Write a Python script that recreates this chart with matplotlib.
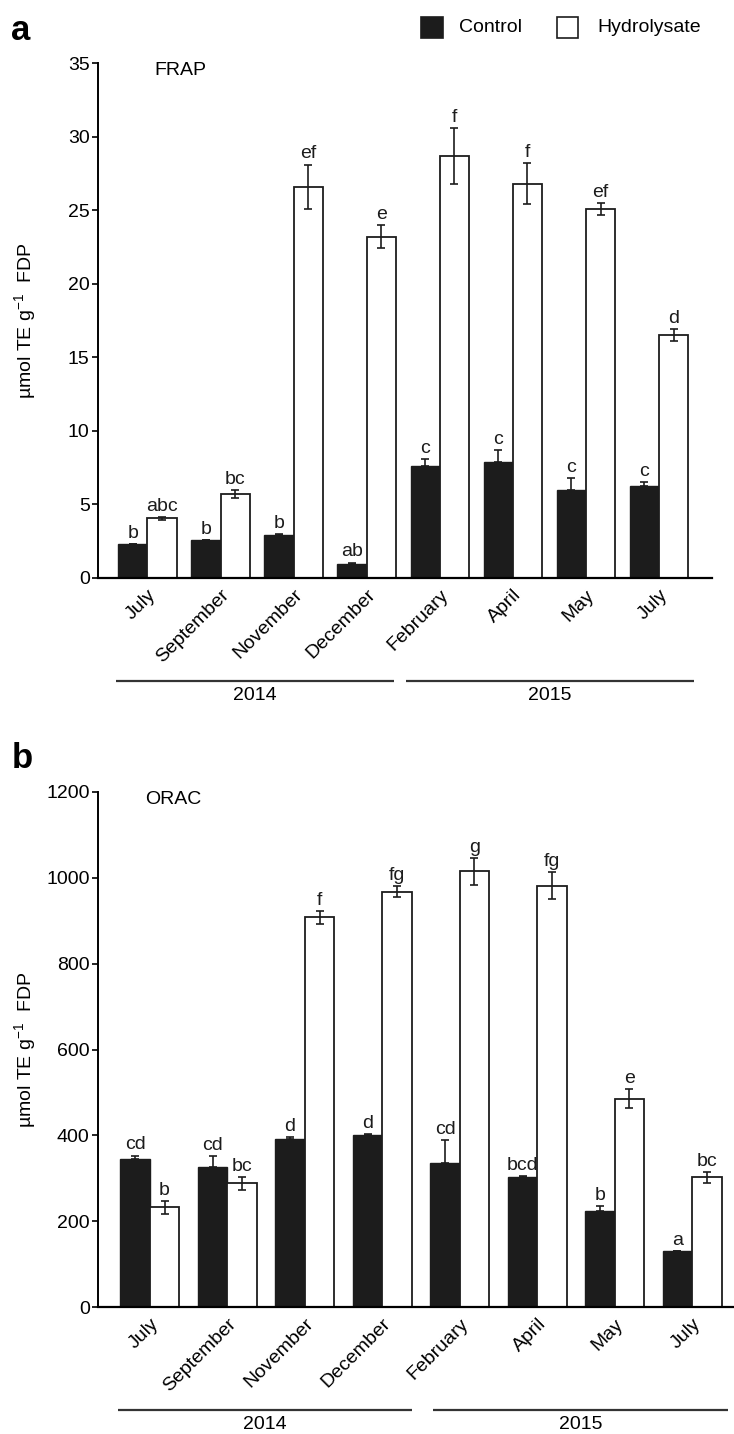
import matplotlib
matplotlib.use("Agg")
import matplotlib.pyplot as plt
import matplotlib.transforms as mtransforms
from matplotlib.patches import Rectangle
import numpy as np

plt.rcParams['font.family'] = ['Liberation Sans', 'DejaVu Sans']
plt.rcParams['mathtext.default'] = 'regular'

months = ["July", "September", "November", "December", "February", "April", "May", "July"]
years = ["2014", "2015"]

# Panel a: FRAP
frap_control = [2.3, 2.6, 2.9, 0.95, 7.6, 7.9, 6.0, 6.25]
frap_control_err = [0.0, 0.0, 0.1, 0.1, 0.5, 0.8, 0.8, 0.25]
frap_hydro = [4.05, 5.7, 26.6, 23.2, 28.7, 26.8, 25.1, 16.5]
frap_hydro_err = [0.1, 0.25, 1.5, 0.8, 1.9, 1.4, 0.4, 0.4]
frap_control_letters = ["b", "b", "b", "ab", "c", "c", "c", "c"]
frap_hydro_letters = ["abc", "bc", "ef", "e", "f", "f", "ef", "d"]

# Panel b: ORAC
orac_control = [345, 327, 392, 400, 335, 303, 223, 130]
orac_control_err = [8, 25, 3, 3, 55, 3, 12, 0]
orac_hydro = [232, 288, 908, 968, 1015, 982, 485, 302]
orac_hydro_err = [15, 15, 15, 12, 32, 32, 22, 12]
orac_control_letters = ["cd", "cd", "d", "d", "cd", "bcd", "b", "a"]
orac_hydro_letters = ["b", "bc", "f", "fg", "g", "fg", "e", "bc"]

BLACK = '#1c1c1c'
FS = 14
W, H = 734, 1434
fig = plt.figure(figsize=(W / 100, H / 100), dpi=100)


def px_axes(left, right, top, bottom):
    return fig.add_axes([left / W, 1 - bottom / H, (right - left) / W, (bottom - top) / H])


def draw_panel(ax, ctrl, ctrl_err, hyd, hyd_err, ctrl_lab, hyd_lab, ymax, ystep, xlim, bw,
               year_spans, ylab_x, title, title_x):
    x = np.arange(len(months))
    ax.bar(x - bw / 2, ctrl, width=bw, color=BLACK, edgecolor=BLACK, linewidth=1.0, zorder=2)
    ax.bar(x + bw / 2, hyd, width=bw, color='white', edgecolor=BLACK, linewidth=1.3, zorder=2)
    ax.errorbar(x - bw / 2, ctrl, yerr=[np.zeros(len(ctrl)), ctrl_err], fmt='none',
                ecolor=BLACK, elinewidth=1.2, capsize=3, capthick=1.2, zorder=3)
    ax.errorbar(x + bw / 2, hyd, yerr=hyd_err, fmt='none',
                ecolor=BLACK, elinewidth=1.2, capsize=3, capthick=1.2, zorder=3)
    for i in range(len(x)):
        ax.annotate(ctrl_lab[i], (x[i] - bw / 2, ctrl[i] + ctrl_err[i]), xytext=(0, 1.5),
                    textcoords='offset points', ha='center', va='bottom', fontsize=FS, color=BLACK)
        ax.annotate(hyd_lab[i], (x[i] + bw / 2, hyd[i] + hyd_err[i]), xytext=(0, 1.5),
                    textcoords='offset points', ha='center', va='bottom', fontsize=FS, color=BLACK)
    ax.set_xlim(*xlim)
    ax.set_ylim(0, ymax)
    ax.set_yticks(np.arange(0, ymax + 1, ystep))
    ax.set_xticks(x)
    labels = ax.set_xticklabels(months, rotation=45, ha='right', va='top',
                                rotation_mode='anchor', fontsize=FS)
    offset = mtransforms.ScaledTranslation(5 / 100, 0, fig.dpi_scale_trans)
    for lab in labels:
        lab.set_transform(lab.get_transform() + offset)
    ax.tick_params(axis='x', length=0, pad=6)
    ax.tick_params(axis='y', length=4, width=1.2, labelsize=FS, pad=2, direction='out')
    for s in ['top', 'right']:
        ax.spines[s].set_visible(False)
    ax.spines['left'].set_linewidth(1.4)
    ax.spines['bottom'].set_linewidth(1.6)
    ax.set_ylabel(r'µmol TE g$^{-1}$  FDP', fontsize=FS)
    ax.yaxis.set_label_coords(ylab_x, 0.5)
    ax.text(title_x, 0.985, title, transform=ax.transAxes, fontsize=FS,
            ha='left', va='center')
    trans = mtransforms.blended_transform_factory(ax.transData, ax.transAxes)
    for (x0, x1), yr in zip(year_spans, years):
        ax.plot([x0, x1], [-0.200, -0.200], transform=trans, color='#333333', lw=1.6,
                clip_on=False, solid_capstyle='butt')
        ax.text((x0 + x1) / 2, -0.212, yr, transform=trans, ha='center', va='top', fontsize=FS)


axa = px_axes(98, 712, 63, 578)
draw_panel(axa, frap_control, frap_control_err, frap_hydro, frap_hydro_err,
           frap_control_letters, frap_hydro_letters, 35, 5, (-0.677, 7.725), 0.40,
           [(-0.43, 3.37), (3.54, 7.48)], -60 / 614, 'FRAP', 56 / 614)

axb = px_axes(98, 734, 792, 1307)
draw_panel(axb, orac_control, orac_control_err, orac_hydro, orac_hydro_err,
           orac_control_letters, orac_hydro_letters, 1200, 200, (-0.67, 7.54), 0.38,
           [(-0.41, 3.38), (3.66, 7.46)], -60 / 636, 'ORAC', 47 / 636)

# panel letters
fig.text(11 / W, 1 - 30 / H, 'a', fontsize=25, fontweight='bold', ha='left', va='center',
         family=['Liberation Sans', 'DejaVu Sans'])
fig.text(12 / W, 1 - 758 / H, 'b', fontsize=25, fontweight='bold', ha='left', va='center',
         family=['Liberation Sans', 'DejaVu Sans'])

# legend
fig.patches.append(Rectangle((421 / W, 1 - 38 / H), 22 / W, 21 / H, transform=fig.transFigure,
                             facecolor=BLACK, edgecolor=BLACK, lw=1.2))
fig.text(459 / W, 1 - 28 / H, 'Control', fontsize=FS, ha='left', va='center')
fig.patches.append(Rectangle((557 / W, 1 - 38 / H), 21 / W, 21 / H, transform=fig.transFigure,
                             facecolor='white', edgecolor=BLACK, lw=1.2))
fig.text(597 / W, 1 - 28 / H, 'Hydrolysate', fontsize=FS, ha='left', va='center')

fig.savefig('out.png', dpi=100)
